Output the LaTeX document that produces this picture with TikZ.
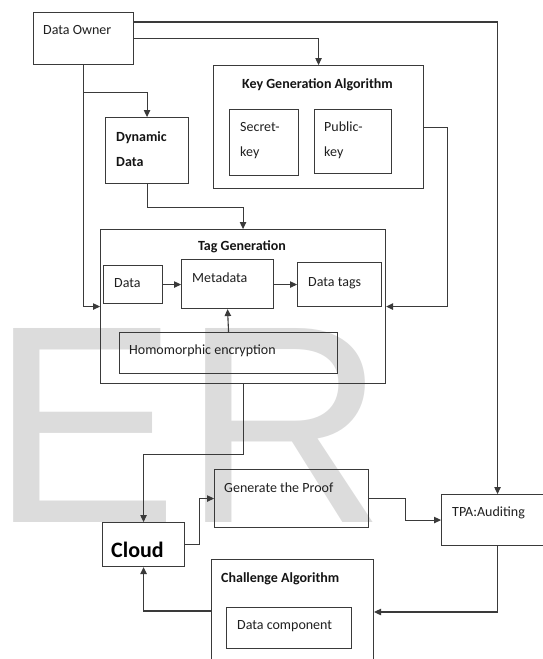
\documentclass[tikz,border=0pt]{standalone}
\usepackage{fontspec}
\setmainfont{Carlito}
\newfontfamily\wmfont{Liberation Sans}
\usetikzlibrary{arrows.meta,calc}
\definecolor{lc}{HTML}{3A3A3A}
\definecolor{wm}{HTML}{DCDCDC}
\tikzset{
  box/.style={draw=lc, line width=1.1pt, inner sep=0pt, anchor=north west, fill=none},
  lbl/.style={anchor=west, inner sep=0pt, font=\fontsize{14}{25}\selectfont, align=left, text=black!88},
  ttl/.style={anchor=west, inner sep=0pt, font=\fontsize{14}{25}\selectfont\bfseries, align=left, text=black!92},
  arr/.style={draw=lc, line width=1.1pt, -{Triangle[length=7pt,width=6.5pt]}},
}
\begin{document}
\begin{tikzpicture}[x=1pt,y=-1pt]
\useasboundingbox (0,0) rectangle (543,659);
\clip (0,0) rectangle (543,659);
% watermark
\node[anchor=base west, inner sep=0pt, text=wm, font=\wmfont\fontsize{282}{282}\selectfont] (wmark) at (-10,522) {E\kern4pt R};
% boxes
\node[box, minimum width=100pt, minimum height=52pt] (owner) at (33,12) {};
\node[box, minimum width=83pt, minimum height=66pt] (dyn) at (105,117) {};
\node[box, minimum width=210pt, minimum height=123pt] (keygen) at (213,65) {};
\node[box, minimum width=69pt, minimum height=66pt] (secret) at (229,109) {};
\node[box, minimum width=77pt, minimum height=64pt] (public) at (314,109) {};
\node[box, minimum width=285pt, minimum height=154pt] (taggen) at (100,229) {};
\node[box, minimum width=59pt, minimum height=38pt] (data) at (103,265) {};
\node[box, minimum width=92pt, minimum height=49pt] (meta) at (181,259) {};
\node[box, minimum width=84pt, minimum height=44pt] (tags) at (297,262) {};
\node[box, minimum width=218pt, minimum height=41pt] (homo) at (119,332) {};
\node[box, minimum width=82pt, minimum height=44pt] (cloud) at (102,522) {};
\node[box, minimum width=154pt, minimum height=58pt] (gen) at (214,469) {};
\node[box, minimum width=112pt, minimum height=51pt] (tpa) at (441,494) {};
\node[box, minimum width=162pt, minimum height=103pt] (chal) at (211,559) {};
\node[box, minimum width=125pt, minimum height=41pt] (comp) at (226,607) {};
% texts
\node[lbl] (owner-t) at (43,30) {Data Owner};
\node[ttl] (dyn-t) at (116,149.5) {Dynamic\\Data};
\node[ttl] (keygen-t) at (242,85) {Key Generation Algorithm};
\node[lbl] (secret-t) at (240,140.5) {Secret-\\key};
\node[lbl] (public-t) at (324,140.5) {Public-\\key};
\node[ttl, anchor=center] (taggen-t) at (242,247) {Tag Generation};
\node[lbl] (data-t) at (114,283) {Data};
\node[lbl] (meta-t) at (192,278) {Metadata};
\node[lbl] (tags-t) at (308,283) {Data tags};
\node[lbl] (homo-t) at (129,351) {Homomorphic encryption};
\node[anchor=west, inner sep=0pt, font=\fontsize{22}{22}\selectfont\bfseries] (cloud-t) at (111,550) {Cloud};
\node[lbl] (gen-t) at (224,488) {Generate the Proof};
\node[lbl] (tpa-t) at (452,513) {TPA:Auditing};
\node[ttl] (chal-t) at (221,579) {Challenge Algorithm};
\node[lbl] (comp-t) at (237,626) {Data component};
% connectors
\draw[arr] ([yshift=-10pt]owner.north east) -| (tpa.north);
\draw[arr] (owner.east) -| (keygen.north);
\draw[arr] (owner.south) |- (taggen.west);
\coordinate (b1) at ($(owner.south)+(0,27)$);
\draw[arr] (b1) -| (dyn.north);
\draw[arr] (dyn.south) -- ++(0,23) -| (taggen.north);
\draw[arr] (keygen.east) -- ++(23,0) |- (taggen.east);
\draw[arr] (data.east) -- (data.east -| meta.west);
\draw[arr] (meta.east |- tags.west) -- (tags.west);
\draw[arr] (homo.north) -- (meta.south);
\draw[arr] (taggen.south) -- ++(0,70) -| (cloud.north);
\draw[arr] (cloud.east) -- ++(14,0) |- (gen.west);
\draw[arr] (gen.east) -- ++(36,0) |- (tpa.west);
\draw[arr] (tpa.south) |- ([yshift=-53pt]chal.north east);
\draw[arr] ([yshift=-52pt]chal.north west) -| (cloud.south);
\end{tikzpicture}
\end{document}
